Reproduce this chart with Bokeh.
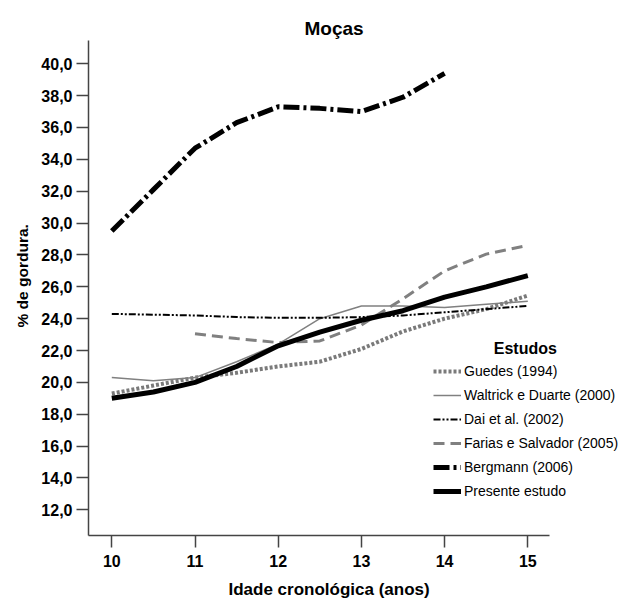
from bokeh.plotting import figure
from bokeh.models import Range1d, FixedTicker, Label, Legend, LegendItem, Title
from bokeh.embed import file_html
from bokeh.resources import INLINE

# ---- data ----
ages_half = [10, 10.5, 11, 11.5, 12, 12.5, 13, 13.5, 14, 14.5, 15]
guedes = [19.3, 19.8, 20.3, 20.6, 21.0, 21.3, 22.1, 23.2, 24.0, 24.6, 25.45]
waltrick = [20.3, 20.1, 20.3, 21.3, 22.4, 24.0, 24.8, 24.8, 24.7, 24.9, 25.1]
dai = [24.3, 24.25, 24.2, 24.1, 24.05, 24.05, 24.1, 24.2, 24.4, 24.6, 24.8]
ages_farias = [11, 11.5, 12, 12.5, 13, 13.5, 14, 14.5, 15]
farias = [23.05, 22.75, 22.5, 22.6, 23.6, 25.25, 27.0, 28.05, 28.6]
ages_bergmann = [10, 10.5, 11, 11.5, 12, 12.5, 13, 13.5, 14]
bergmann = [29.5, 32.1, 34.7, 36.3, 37.3, 37.2, 37.0, 37.9, 39.4]
presente = [19.0, 19.4, 20.0, 21.0, 22.3, 23.15, 23.9, 24.5, 25.35, 26.0, 26.7]

x_ticks = [10, 11, 12, 13, 14, 15]
y_ticks = [12, 14, 16, 18, 20, 22, 24, 26, 28, 30, 32, 34, 36, 38, 40]
y_tick_labels = {t: f"{t},0" for t in y_ticks}

title = "Moças"
x_label = "Idade cronológica (anos)"
y_label = "% de gordura."
legend_title = "Estudos"
names = ["Guedes (1994)", "Waltrick e Duarte (2000)", "Dai et al. (2002)",
         "Farias e Salvador (2005)", "Bergmann (2006)", "Presente estudo"]

FONT = "Liberation Sans"

p = figure(width=623, height=606, output_backend="svg", toolbar_location=None,
           x_range=Range1d(9.72, 16.15), y_range=Range1d(10.39, 41.46),
           min_border_left=88, min_border_right=0, min_border_top=40,
           min_border_bottom=71)
p.outline_line_color = None
p.grid.visible = False
p.background_fill_color = "white"
p.border_fill_color = "white"

# title above the frame
p.title.text = title
p.title.text_font = FONT
p.title.text_font_size = "19px"
p.title.text_font_style = "bold"
p.title.text_color = "black"
p.title.align = "left"
p.title.offset = 216
p.title.standoff = 3

for ax in (p.xaxis[0], p.yaxis[0]):
    ax.axis_line_color = "#444444"
    ax.axis_line_width = 1.5
    ax.major_tick_line_color = "#444444"
    ax.major_tick_line_width = 1.5
    ax.major_tick_out = 12
    ax.major_tick_in = 0
    ax.minor_tick_line_color = None
    ax.major_label_text_font = FONT
    ax.major_label_text_font_style = "bold"
    ax.major_label_text_font_size = "16px"
    ax.major_label_text_color = "black"

p.xaxis.ticker = FixedTicker(ticks=x_ticks)
p.xaxis.bounds = (9.72, 15.26)
p.yaxis.ticker = FixedTicker(ticks=y_ticks)
p.yaxis.major_label_overrides = y_tick_labels
p.xaxis.major_label_standoff = 7
p.yaxis.major_label_standoff = 4

# axis titles as side-panel titles so they can be offset like the reference
p.add_layout(Title(text=x_label, text_font=FONT, text_font_size="17px",
                   text_font_style="bold", text_color="black",
                   align="left", offset=140, standoff=16), "below")
p.add_layout(Title(text=y_label, text_font=FONT, text_font_size="15.5px",
                   text_font_style="bold", text_color="black",
                   align="left", offset=208, standoff=16), "left")

r_guedes = p.line(ages_half, guedes, line_color="#7a7a7a", line_width=4, line_dash="3 2")
r_waltrick = p.line(ages_half, waltrick, line_color="#808080", line_width=1.5)
r_dai = p.line(ages_half, dai, line_color="black", line_width=2, line_dash="7 2 2 2 2 2")
r_farias = p.line(ages_farias, farias, line_color="#808080", line_width=3, line_dash="11 6")
r_bergmann = p.line(ages_bergmann, bergmann, line_color="black", line_width=5, line_dash="16 4 3 4")
r_presente = p.line(ages_half, presente, line_color="black", line_width=5)

renderers = [r_guedes, r_waltrick, r_dai, r_farias, r_bergmann, r_presente]
legend = Legend(items=[LegendItem(label=n, renderers=[r]) for n, r in zip(names, renderers)],
                location=(345, 34), glyph_width=28, glyph_height=20, label_height=20,
                label_standoff=3, spacing=4, padding=0, margin=0,
                border_line_color=None, background_fill_alpha=0,
                label_text_font=FONT, label_text_font_size="14px",
                label_text_color="black")
p.add_layout(legend, "center")

p.add_layout(Label(x=14.97, y=22.13, text=legend_title, text_font=FONT,
                   text_font_size="16px", text_font_style="bold",
                   text_align="center", text_baseline="middle", text_color="black"))

open("out.html", "w").write(file_html(p, INLINE))
